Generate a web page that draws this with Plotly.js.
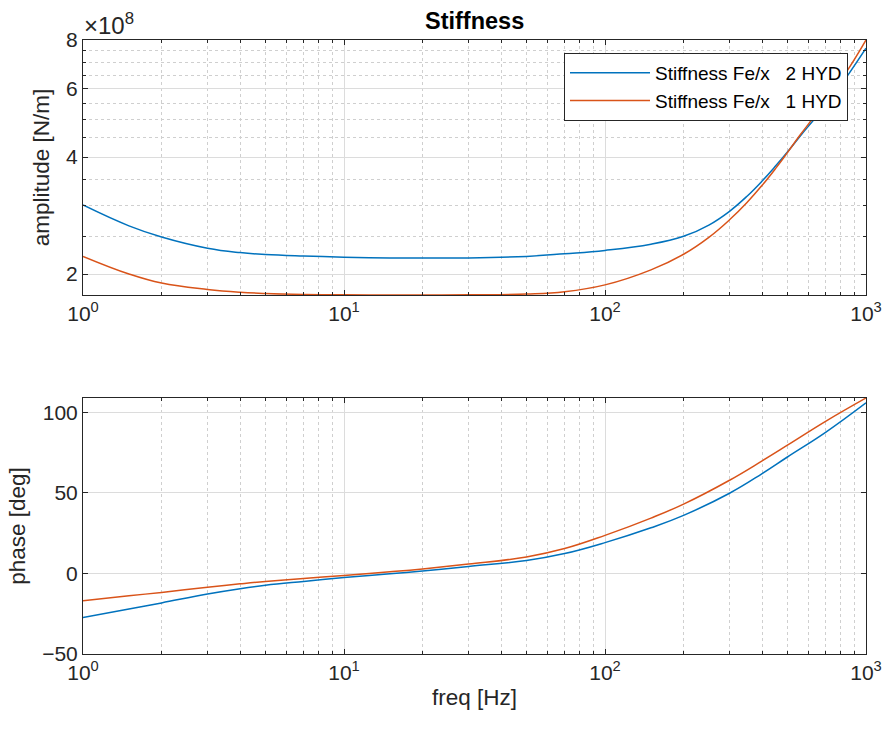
<!DOCTYPE html>
<html>
<head>
<meta charset="utf-8">
<script src="https://cdn.plot.ly/plotly-3.0.1.min.js"></script>
<style>html,body{margin:0;padding:0;background:#fff;}#plot{width:887px;height:729px;}</style>
</head>
<body>
<div id="plot"></div>
<script>
// Frequency points [Hz] for amplitude readings
const ampFreq = [1, 1.5, 2, 3, 4, 5, 7, 10, 15, 20, 30, 50, 70, 100, 150, 200, 250, 300, 350, 400, 450, 500, 560, 630, 700, 850, 1000];
// Stiffness amplitude [N/m]
const amp2HYD = [3.01e8, 2.66e8, 2.49e8, 2.33e8, 2.27e8, 2.245e8, 2.225e8, 2.21e8, 2.2e8, 2.2e8, 2.2e8, 2.22e8, 2.255e8, 2.30e8, 2.385e8, 2.50e8, 2.673e8, 2.90e8, 3.17e8, 3.47e8, 3.79e8, 4.12e8, 4.53e8, 4.98e8, 5.42e8, 6.48e8, 7.62e8];
const amp1HYD = [2.22e8, 2.00e8, 1.895e8, 1.825e8, 1.795e8, 1.782e8, 1.772e8, 1.768e8, 1.766e8, 1.766e8, 1.768e8, 1.776e8, 1.80e8, 1.875e8, 2.05e8, 2.248e8, 2.485e8, 2.757e8, 3.056e8, 3.382e8, 3.734e8, 4.106e8, 4.562e8, 5.06e8, 5.56e8, 6.69e8, 8.0e8];
// Frequency points [Hz] for phase readings
const phaseFreq = [1, 1.5, 2, 3, 4, 5, 7, 10, 15, 20, 30, 50, 70, 100, 150, 200, 300, 400, 500, 700, 1000];
// Phase [deg]
const phase2HYD = [-27.4, -22.1, -18.3, -12.8, -9.5, -7.4, -5.0, -2.6, -0.2, 1.5, 4.3, 8.0, 12.3, 19.1, 28.3, 36.0, 49.7, 61.9, 72.2, 87.5, 105.8];
const phase1HYD = [-17, -13.9, -11.8, -8.6, -6.5, -5.0, -3.1, -1.3, 1.0, 2.8, 5.8, 10.2, 15.4, 23.6, 34.3, 43.0, 57.8, 69.8, 79.5, 94.3, 108.8];

const seriesNames = ['Stiffness Fe/x\u00a0\u00a0\u00a02 HYD', 'Stiffness Fe/x\u00a0\u00a0\u00a01 HYD'];
const xTickVals = [1, 10, 100, 1000];
const xTickText = ['10<sup>0</sup>', '10<sup>1</sup>', '10<sup>2</sup>', '10<sup>3</sup>'];
const xMinorVals = [2,3,4,5,6,7,8,9,20,30,40,50,60,70,80,90,200,300,400,500,600,700,800,900];
const ampTickVals = [2e8, 4e8, 6e8, 8e8];
const ampTickText = ['2', '4', '6', '8'];
const ampMinorVals = [2.5e8, 3e8, 3.5e8, 4.5e8, 5e8, 5.5e8, 6.5e8, 7e8, 7.5e8];
const phaseTickVals = [-50, 0, 50, 100];

const BLUE = '#0072BD', ORANGE = '#D95319';
const AX = '#262626';
const FONT = 'Liberation Sans, Arial, sans-serif';

const W = 887, H = 729;
const px = v => v / W, py = v => 1 - v / H;

const lineStyle = c => ({color: c, width: 1.5, shape: 'spline', smoothing: 1.2});
const traces = [
  {x: ampFreq, y: amp2HYD, xaxis: 'x', yaxis: 'y', name: seriesNames[0], mode: 'lines', line: lineStyle(BLUE)},
  {x: ampFreq, y: amp1HYD, xaxis: 'x', yaxis: 'y', name: seriesNames[1], mode: 'lines', line: lineStyle(ORANGE)},
  {x: phaseFreq, y: phase2HYD, xaxis: 'x2', yaxis: 'y2', name: seriesNames[0], mode: 'lines', showlegend: false, line: lineStyle(BLUE)},
  {x: phaseFreq, y: phase1HYD, xaxis: 'x2', yaxis: 'y2', name: seriesNames[1], mode: 'lines', showlegend: false, line: lineStyle(ORANGE)}
];

const TICKFONT = {family: FONT, size: 21, color: '#262626'};
const LABELFONT = {family: FONT, size: 22.5, color: '#262626'};

function xAxis(anchor) {
  return {
    type: 'log', range: [0, 3], domain: [px(83), px(866)], anchor: anchor,
    tickmode: 'array', tickvals: xTickVals, ticktext: xTickText,
    ticks: 'inside', ticklen: 5, tickcolor: AX, tickwidth: 1,
    showline: true, linecolor: AX, linewidth: 1, mirror: 'allticks',
    showgrid: true, gridcolor: '#dcdcdc', gridwidth: 1,
    minor: {tickmode: 'array', tickvals: xMinorVals, ticks: 'inside', ticklen: 3, tickcolor: AX,
            showgrid: true, gridcolor: '#cfcfcf', griddash: 'dot', gridwidth: 1},
    tickfont: TICKFONT,
    zeroline: false, fixedrange: true
  };
}

const layout = {
  width: W, height: H,
  margin: {l: 0, r: 0, t: 0, b: 0},
  paper_bgcolor: '#ffffff', plot_bgcolor: '#ffffff',
  font: {family: FONT, color: '#262626'},
  showlegend: true,
  legend: {
    x: px(848), y: py(53), xanchor: 'right', yanchor: 'top',
    bgcolor: '#ffffff', bordercolor: AX, borderwidth: 1,
    font: {family: FONT, size: 19, color: '#000000'},
    tracegroupgap: 0, itemwidth: 80
  },
  xaxis: xAxis('y'),
  xaxis2: Object.assign(xAxis('y2'), {title: {text: 'freq [Hz]', font: LABELFONT, standoff: 6}}),
  yaxis: {
    type: 'log', range: [Math.log10(1.766e8), Math.log10(8e8)], domain: [py(295), py(40)], anchor: 'x',
    tickmode: 'array', tickvals: ampTickVals, ticktext: ampTickText,
    ticks: 'inside', ticklen: 5, tickcolor: AX,
    showline: true, linecolor: AX, linewidth: 1, mirror: 'allticks',
    showgrid: true, gridcolor: '#dcdcdc',
    minor: {tickmode: 'array', tickvals: ampMinorVals, ticks: 'inside', ticklen: 3, tickcolor: AX,
            showgrid: true, gridcolor: '#cfcfcf', griddash: 'dot', gridwidth: 1},
    tickfont: TICKFONT,
    title: {text: 'amplitude [N/m]', font: LABELFONT, standoff: 10},
    zeroline: false, fixedrange: true
  },
  yaxis2: {
    range: [-50, 108.8], domain: [py(654), py(398)], anchor: 'x2',
    tickmode: 'array', tickvals: phaseTickVals,
    ticks: 'inside', ticklen: 5, tickcolor: AX,
    showline: true, linecolor: AX, linewidth: 1, mirror: 'allticks',
    showgrid: true, gridcolor: '#dcdcdc',
    tickfont: TICKFONT,
    title: {text: 'phase [deg]', font: LABELFONT, standoff: 10},
    zeroline: false, fixedrange: true
  },
  annotations: [
    {text: '<b>Stiffness</b>', xref: 'paper', yref: 'paper', x: px(474.5), y: py(21), xanchor: 'center', yanchor: 'middle',
     showarrow: false, font: {family: FONT, size: 23.5, color: '#000000'}},
    {text: '\u00d710<sup>8</sup>', xref: 'paper', yref: 'paper', x: px(82), y: py(24), xanchor: 'left', yanchor: 'middle',
     showarrow: false, font: {family: FONT, size: 24, color: '#262626'}}
  ]
};

Plotly.newPlot('plot', traces, layout, {displayModeBar: false, staticPlot: true});
</script>
</body>
</html>
